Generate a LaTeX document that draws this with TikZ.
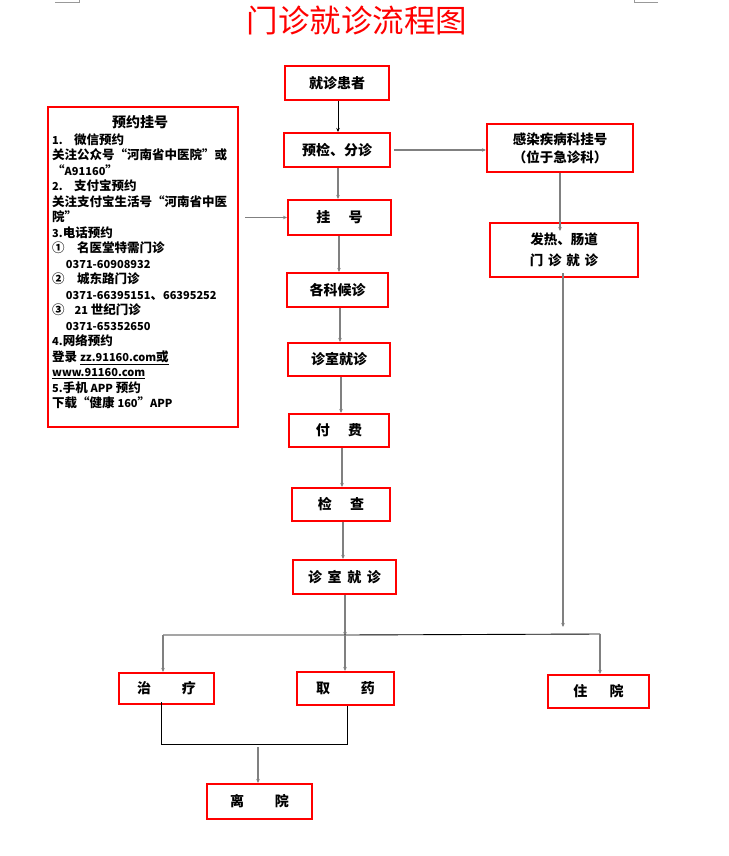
\documentclass[tikz,border=0pt]{standalone}
\usepackage{fontspec}
\setmainfont{Noto Sans CJK SC}
\usetikzlibrary{arrows.meta}
\newcommand{\lt}[1]{{\fontsize{11}{15.5}\selectfont #1}}
\tikzset{
  box/.style={draw=red, line width=2pt, inner sep=0pt, align=center,
    font=\fontsize{14}{18}\selectfont\bfseries},
  arr/.style={draw=black!50, line width=1.2pt, -{Stealth[length=4pt,width=3.5pt]}},
  barr/.style={draw=black, line width=0.9pt, -{Stealth[length=4pt,width=3.5pt]}},
  ln/.style={draw=black, line width=0.9pt},
  cornermark/.style={draw=black!40, line width=0.6pt}
}
\begin{document}
\begin{tikzpicture}[x=1pt,y=-1pt]
\useasboundingbox (0,0) rectangle (728,856);
% page corner marks
\draw[cornermark] (55,2) -- (79,2) -- (79,0);
\draw[cornermark] (658,2) -- (634,2) -- (634,0);
% title
\node[text=red, font=\fontsize{31.5}{34}\selectfont] (title) at (357,21) {门诊就诊流程图};
% main column
\node[box, minimum width=104pt, minimum height=34pt] (b1) at (337,83) {就诊患者};
\node[box, minimum width=106pt, minimum height=34pt] (b2) at (337,150) {预检、分诊};
\node[box, minimum width=103pt, minimum height=35pt] (b3) at (339.5,217.5) {挂\hspace{1.3em}号};
\node[box, minimum width=101pt, minimum height=34pt] (b4) at (337.5,290) {各科候诊};
\node[box, minimum width=102pt, minimum height=33pt] (b5) at (339,359.5) {诊室就诊};
\node[box, minimum width=100pt, minimum height=33pt] (b6) at (339,430.5) {付\hspace{1.3em}费};
\node[box, minimum width=98pt, minimum height=33pt] (b7) at (341,504.5) {检\hspace{1.3em}查};
\node[box, minimum width=103pt, minimum height=34pt] (b8) at (344.5,577) {诊\hspace{0.4em}室\hspace{0.4em}就\hspace{0.4em}诊};
\node[box, minimum width=95pt, minimum height=31pt] (b9) at (166.5,688.5) {治\hspace{2.2em}疗};
\node[box, minimum width=97pt, minimum height=33pt] (b10) at (345.5,688.5) {取\hspace{2.2em}药};
\node[box, minimum width=101pt, minimum height=33pt] (b11) at (598.5,691.5) {住\hspace{1.6em}院};
\node[box, minimum width=105pt, minimum height=35pt] (b12) at (259.5,801.5) {离\hspace{2.2em}院};
% right column
\node[box, minimum width=146pt, minimum height=48pt, font=\fontsize{13.5}{18}\selectfont\bfseries] (r1) at (560,148) {感染疾病科挂号\\（位于急诊科）};
\node[box, minimum width=148pt, minimum height=54pt, font=\fontsize{13.5}{21}\selectfont\bfseries] (r2) at (564,250) {发热、肠道\\门\hspace{0.35em}诊\hspace{0.35em}就\hspace{0.35em}诊};
% left box
\node[draw=red, line width=2pt, minimum width=190pt, minimum height=320pt, inner sep=0pt] (lb) at (143,267) {};
\node[font=\fontsize{14}{16}\selectfont\bfseries] (lbt) at (140,122) {预约挂号};
\node[anchor=north west, align=left, inner sep=0pt,
      font=\fontsize{12.5}{15.5}\selectfont\bfseries] (lbb) at (52,133.5) {%
\lt{1.}\hspace{0.9em}微信预约\\
关注公众号“河南省中医院”或\\
“\lt{A91160}”\\
\lt{2.}\hspace{0.9em}支付宝预约\\
关注支付宝生活号“河南省中医\\
院”\\
\lt{3.}电话预约\\
①\hspace{1em}名医堂特需门诊\\
\hspace{1.1em}\lt{0371-60908932}\\
②\hspace{1em}城东路门诊\\
\hspace{1.1em}\lt{0371-66395151}、\lt{66395252}\\
③\hspace{0.8em}\lt{21} 世纪门诊\\
\hspace{1.1em}\lt{0371-65352650}\\
\lt{4.}网络预约\\
登录 \underline{\lt{zz.91160.com}或}\\
\underline{\lt{www.91160.com}}\\
\lt{5.}手机 \lt{APP} 预约\\
下载“健康 \lt{160}”\lt{APP}};
% main arrows
\draw[barr] (b1.south -| 338,0) -- (b2.north -| 338,0);
\draw[arr] (b2.south -| 338,0) -- (b3.north -| 338,0);
\draw[arr] (b3.south -| 339,0) -- (b4.north -| 339,0);
\draw[arr] (b4.south -| 340,0) -- (b5.north -| 340,0);
\draw[arr] (b5.south -| 341,0) -- (b6.north -| 341,0);
\draw[arr] (b6.south -| 342,0) -- (b7.north -| 342,0);
\draw[arr] (b7.south -| 343,0) -- (b8.north -| 343,0);
% side arrows
\draw[arr] ([xshift=6pt]lb.east |- b3.west) -- (b3.west);
\draw[arr] ([xshift=3pt]b2.east) -- (r1.west |- b2.east);
\draw[arr] (r1.south) -- ([yshift=-9pt]r2.north -| r1.south);
% branch
\coordinate (hl) at (163,635);
\coordinate (hm) at (345,635);
\coordinate (hr) at (600,634);
\draw[arr] (b8.south -| hm) -- ([yshift=-1pt]hm);
\draw[ln] (hl) -- (hm) -- (hr);
\draw[arr] (hl) -- (b9.north -| hl);
\draw[arr] (hm) -- (b10.north -| hm);
\draw[arr] (hr) -- (b11.north -| hr);
\draw[arr] ([yshift=5pt]r2.south -| 563,0) -- (563,627);
% join
\coordinate (jl) at (161,744);
\coordinate (jr) at (347,744);
\coordinate (jm) at (258,747);
\draw[ln] ([yshift=3pt]b9.south -| jl) -- (jl) -- (jr) -- (b10.south -| jr);
\draw[arr] (jm) -- (b12.north -| jm);
\end{tikzpicture}
\end{document}
